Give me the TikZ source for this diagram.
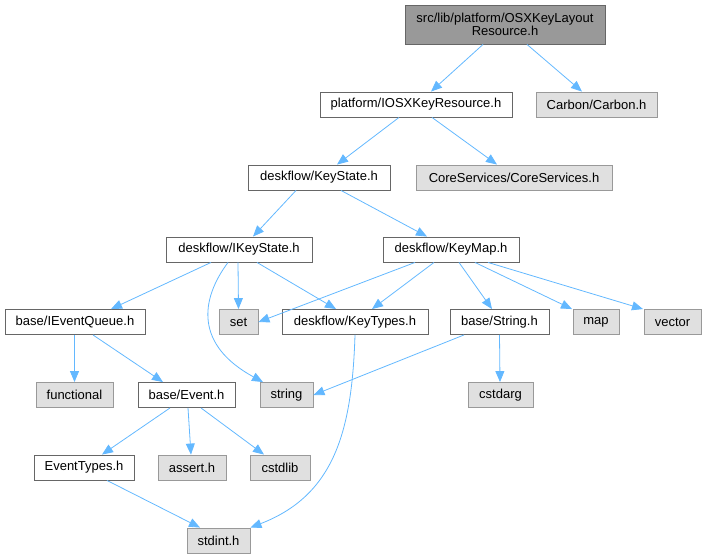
\documentclass[tikz,border=0pt]{standalone}
\usepackage{fontspec}
\setmainfont{Liberation Sans}
\usetikzlibrary{arrows.meta}
\definecolor{edgeblue}{HTML}{63B8FF}
\definecolor{extfill}{HTML}{E0E0E0}
\definecolor{extline}{HTML}{999999}
\definecolor{hdrline}{HTML}{666666}

\begin{document}
\begin{tikzpicture}[x=1pt,y=-1pt,
  hdr/.style={draw=hdrline,fill=white,line width=0.9pt,minimum height=25pt,inner sep=0pt,font=\fontsize{13}{14}\selectfont},
  ext/.style={hdr,draw=extline,fill=extfill},
  root/.style={hdr,fill=extline,minimum height=39pt,align=center},
  inc/.style={draw=edgeblue,line width=0.8pt,-{Triangle[length=11pt,width=9pt]}}]
\useasboundingbox (0,0) rectangle (706,558);

\node[root,minimum width=200pt] (OSXLayout) at (505,24.5) {src/lib/platform/OSXKeyLayout\\[-1pt]Resource.h};
\node[hdr,minimum width=192pt] (IOSXRes) at (416,104.5) {platform/IOSXKeyResource.h};
\node[ext,minimum width=121pt] (Carbon) at (596.5,104.5) {Carbon/Carbon.h};
\node[hdr,minimum width=142pt] (KeyState) at (319,177.5) {deskflow/KeyState.h};
\node[ext,minimum width=196pt] (CoreSvc) at (514,177.5) {CoreServices/CoreServices.h};
\node[hdr,minimum width=146pt] (IKeyState) at (239,249.5) {deskflow/IKeyState.h};
\node[hdr,minimum width=136pt] (KeyMap) at (451,249.5) {deskflow/KeyMap.h};
\node[hdr,minimum width=140pt] (IEventQueue) at (75,322) {base/IEventQueue.h};
\node[ext,minimum width=39pt] (set) at (238.5,322) {set};
\node[hdr,minimum width=146pt] (KeyTypes) at (355,322) {deskflow/KeyTypes.h};
\node[hdr,minimum width=99pt] (String) at (499.5,322) {base/String.h};
\node[ext,minimum width=46pt] (map) at (596,322) {map};
\node[ext,minimum width=57pt] (vector) at (672.5,322) {vector};
\node[ext,minimum width=77pt] (functional) at (74.5,395) {functional};
\node[hdr,minimum width=97pt] (Event) at (186.5,395) {base/Event.h};
\node[ext,minimum width=53pt] (string) at (286.5,395) {string};
\node[ext,minimum width=65pt] (cstdarg) at (500.5,395) {cstdarg};
\node[hdr,minimum width=100pt] (EventTypes) at (84,467.5) {EventTypes.h};
\node[ext,minimum width=68pt] (assert) at (192,467.5) {assert.h};
\node[ext,minimum width=60pt] (cstdlib) at (280,467.5) {cstdlib};
\node[ext,minimum width=63pt] (stdint) at (218.5,540.5) {stdint.h};

% include edges
\draw[inc] (OSXLayout.south -| 483,0) -- (IOSXRes.north -| 431,0);
\draw[inc] (OSXLayout.south -| 527,0) -- (Carbon.north -| 582,0);
\draw[inc] (IOSXRes.south -| 399,0) -- (KeyState.north -| 337,0);
\draw[inc] (IOSXRes.south -| 432,0) -- (CoreSvc.north -| 497,0);
\draw[inc] (KeyState.south -| 296,0) -- (IKeyState.north -| 253,0);
\draw[inc] (KeyState.south -| 341,0) -- (KeyMap.north -| 427,0);
\draw[inc] (IKeyState.south -| 211,0) -- (IEventQueue.north -| 111,0);
\draw[inc] (IKeyState.south -| 238,0) -- (set.north);
\draw[inc] (IKeyState.south -| 257,0) -- (KeyTypes.north -| 336,0);
\draw[inc] (IKeyState.south -| 228,0) .. controls (200,300) and (195,345) .. (string.north -| 263,0);
\draw[inc] (KeyMap.south -| 415,0) -- (set.east);
\draw[inc] (KeyMap.south -| 434,0) -- (KeyTypes.north -| 372,0);
\draw[inc] (KeyMap.south -| 459,0) -- (String.north -| 492,0);
\draw[inc] (KeyMap.south -| 475,0) -- (map.north -| 572,0);
\draw[inc] (KeyMap.south -| 488,0) -- (vector.north -| 643,0);
\draw[inc] (IEventQueue.south -| 74.5,0) -- (functional.north);
\draw[inc] (IEventQueue.south -| 93,0) -- (Event.north -| 163,0);
\draw[inc] (String.south -| 464,0) -- (string.east);
\draw[inc] (String.south) -- (cstdarg.north -| 500,0);
\draw[inc] (KeyTypes.south -| 355,0) .. controls (352,430) and (335,495) .. (stdint.north east);
\draw[inc] (Event.south -| 170,0) -- (EventTypes.north -| 102,0);
\draw[inc] (Event.south -| 188,0) -- (assert.north -| 191,0);
\draw[inc] (Event.south -| 201,0) -- (cstdlib.north -| 264,0);
\draw[inc] (EventTypes.south -| 107,0) -- (stdint.north -| 200,0);
\end{tikzpicture}
\end{document}
